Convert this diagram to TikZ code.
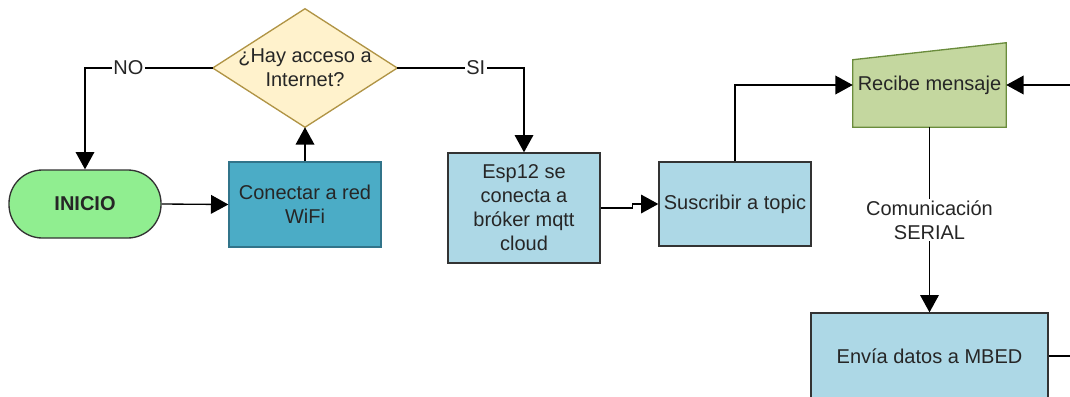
\documentclass[tikz,border=0pt]{standalone}
\usepackage{fontspec}
\setmainfont{Liberation Sans}
\usetikzlibrary{arrows.meta,backgrounds}
\definecolor{inigreen}{HTML}{90EE90}
\definecolor{wifiteal}{HTML}{4BACC6}
\definecolor{wifiedge}{HTML}{31748A}
\definecolor{boxblue}{HTML}{ADD8E6}
\definecolor{qfill}{HTML}{FFF2CC}
\definecolor{qedge}{HTML}{B09445}
\definecolor{recfill}{HTML}{C4D79F}
\definecolor{recedge}{HTML}{6A8C3C}

\begin{document}
\begin{tikzpicture}[x=0.75pt, y=-0.75pt, font=\fontsize{15}{18}\selectfont, text=black!85,
	box/.style={draw=black!80, line width=1pt, fill=boxblue, minimum width=114pt, align=center, inner sep=2pt},
	flecha/.style={-{Triangle[length=13pt,width=14pt]}, line width=1pt},
	etiq/.style={fill=white, inner sep=1pt, align=center}]
	\useasboundingbox (0,0) rectangle (1070,396);
	\node (ini) at (85,204) [box, fill=inigreen, minimum height=51pt, rounded corners=25pt, font=\fontsize{15}{18}\selectfont\bfseries] {INICIO};
	\node (con) at (305,204.5) [box, fill=wifiteal, draw=wifiedge, minimum height=63.75pt] {Conectar a red\\WiFi};
	\node (q) at (305,68) [minimum width=138pt, minimum height=88.5pt, align=center, inner sep=0pt] {¿Hay acceso a\\Internet?};
	\node (esp) at (524,208) [box, minimum height=82.5pt] {Esp12 se\\conecta a\\bróker mqtt\\cloud};
	\node (sus) at (735,204) [box, minimum height=63pt] {Suscribir a topic};
	\node (rec) at (929.5,85) [minimum width=114.75pt, minimum height=63pt, align=center, inner sep=0pt] {Recibe mensaje};
	\node (env) at (929.5,356) [box, minimum width=177.75pt, minimum height=64.5pt] {Envía datos a MBED};
	\coordinate (der1) at (1075,85);
	\coordinate (der2) at (1075,356);
	\begin{scope}[on background layer]
		\path[fill=qfill, draw=qedge, line width=1pt] (q.north) -- (q.east) -- (q.south) -- (q.west) -- cycle;
		\path[fill=recfill, draw=recedge, line width=1pt] (rec.south west) -- (rec.south east) -- (rec.north east) -- ([yshift=-12.75pt]rec.north west) -- cycle;
	\end{scope}
	\draw[flecha] (ini.east) -- (con.west);
	\draw[flecha] (con.north) -- (q.south);
	\draw[flecha] (q.west) -| node[etiq, pos=0.33] {NO} (ini.north);
	\draw[flecha] (q.east) -| node[etiq, pos=0.31] {SI} (esp.north);
	\draw[flecha] (esp.east) -- ++(32,0) |- (sus.west);
	\draw[flecha] (sus.north) |- (rec.west);
	\draw[flecha] (der1) -- (rec.east);
	\draw[flecha] (rec.south) -- node[etiq] {Comunicación\\SERIAL} (env.north);
	\draw[line width=1pt] (env.east) -- (der2);
\end{tikzpicture}
\end{document}
